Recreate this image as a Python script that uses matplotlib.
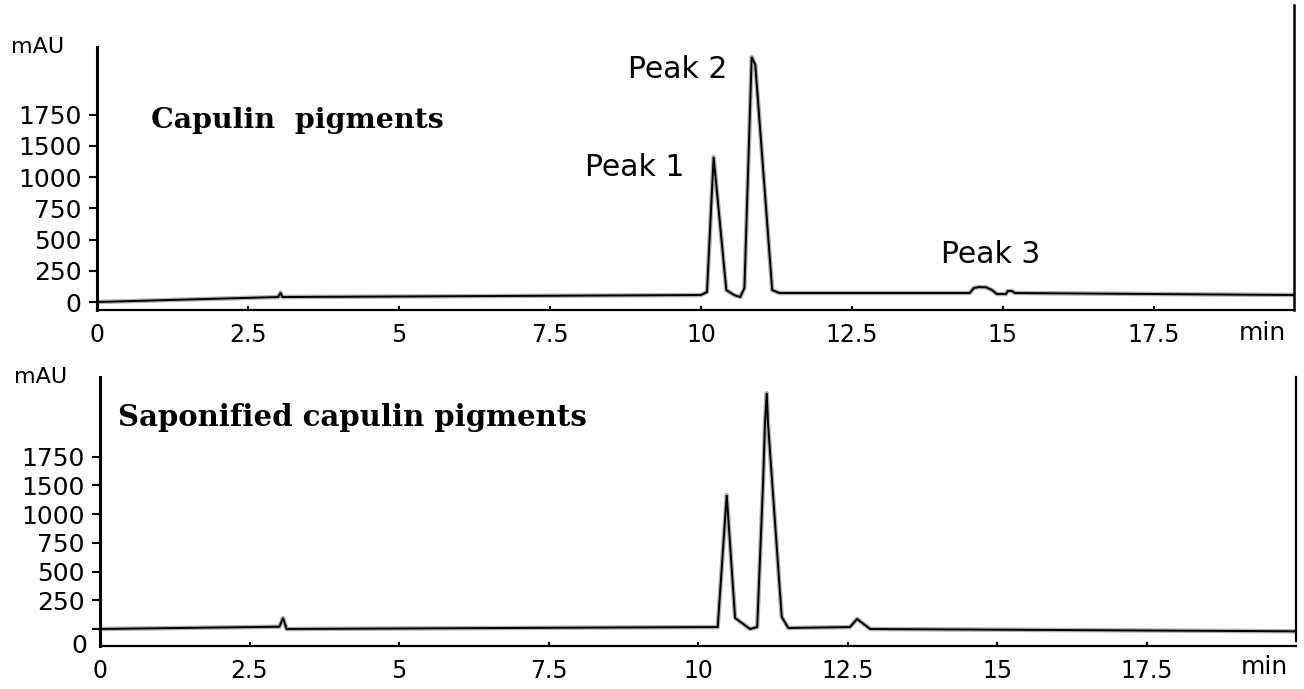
import matplotlib
matplotlib.use('Agg')
import matplotlib.pyplot as plt

# HPLC traces (time in min, signal in mAU axis units)
top_time = [0, 3.0, 3.04, 3.07, 3.12, 10.0, 10.1, 10.21, 10.42, 10.55, 10.65, 10.72, 10.84, 10.9,
            11.18, 11.3, 14.45, 14.52, 14.6, 14.72, 14.82, 14.9, 15.05, 15.08, 15.15, 15.2, 19.82]
top_signal = [0, 40, 75, 40, 40, 56, 80, 1162, 96, 56, 40, 112, 1963, 1900,
              96, 72, 72, 112, 120, 118, 96, 64, 64, 88, 88, 72, 56]

bot_time = [0, 3.0, 3.06, 3.12, 10.2, 10.33, 10.48, 10.62, 10.87, 10.99, 11.09, 11.12, 11.15, 11.17,
            11.4, 11.51, 12.54, 12.66, 12.88, 20.0]
bot_signal = [0, 20, 96, 0, 17, 17, 1167, 96, 0, 17, 1298, 1795, 2055, 1795,
              105, 9, 17, 87, 0, -20]

x_ticks = [0, 2.5, 5, 7.5, 10, 12.5, 15, 17.5]
x_labels = ['0', '2.5', '5', '7.5', '10', '12.5', '15', '17.5']
y_ticks = [0, 250, 500, 750, 1000, 1250, 1500]
y_labels = ['0', '250', '500', '750', '1000', '1500', '1750']

peak_names = ['Peak 1', 'Peak 2', 'Peak 3']
peak_pos = [(8.9, 1074), (9.62, 1860), (14.8, 377)]

plt.rcParams['font.family'] = 'DejaVu Sans'

fig = plt.figure(figsize=(13.04, 6.89), dpi=100)
W, H = 1304, 689

# axes boxes in pixels: left, right, top, bottom
ax1 = fig.add_axes([97 / W, 1 - 310 / H, (1294 - 97) / W, (310 - 47) / H])
ax2 = fig.add_axes([100 / W, 1 - 646 / H, (1296 - 100) / W, (646 - 377) / H])

panels = [(ax1, top_time, top_signal, (-64, 2043), (0, 19.82), -0.088),
          (ax2, bot_time, bot_signal, (-148, 2195), (0, 20.0), -0.078)]

for ax, t, s, ylim, xlim, min_y in panels:
    # grey halo of the scan under the black trace
    ax.plot(t, s, color='#b0b0b0', lw=3.2, solid_joinstyle='round', zorder=2)
    ax.plot(t, s, color='black', lw=1.4, solid_joinstyle='miter', zorder=3)
    ax.set_xlim(xlim)
    ax.set_ylim(ylim)
    ax.set_xticks(x_ticks)
    ax.set_xticklabels(x_labels, fontsize=17)
    ax.set_yticks(y_ticks)
    ax.set_yticklabels(y_labels, fontsize=18)
    ax.tick_params(axis='y', direction='out', length=6, width=1.5, pad=5)
    ax.tick_params(axis='x', direction='in', length=3, width=1.5, pad=9)
    ax.spines['top'].set_visible(False)
    ax.spines['left'].set_linewidth(2.2)
    ax.spines['bottom'].set_linewidth(1.6)
    ax.spines['right'].set_linewidth(1.6)
    ax.patch.set_alpha(0)
    ax.text(0.993, min_y, 'min', transform=ax.transAxes, ha='right', va='center', fontsize=18)
    ax.text(-0.05, 1.0, 'mAU', transform=ax.transAxes, ha='center', va='center', fontsize=16)

ax1.text(0.045, 0.72, 'Capulin  pigments', transform=ax1.transAxes, family='DejaVu Serif',
         fontweight='bold', fontsize=20.5, va='center', ha='left')
ax2.text(0.015, 0.85, 'Saponified capulin pigments', transform=ax2.transAxes, family='DejaVu Serif',
         fontweight='bold', fontsize=21, va='center', ha='left')

for name, (px, py) in zip(peak_names, peak_pos):
    ax1.text(px, py, name, fontsize=21.5, ha='center', va='center')

# top panel frame runs up above the axis on the right
ax1.spines['right'].set_visible(False)
ax1.plot([1, 1], [0, 1.16], transform=ax1.transAxes, color='black', lw=1.8, clip_on=False)
ax2.spines['right'].set_bounds(-108, 2195)

# the "0" of the lower panel sits below its tick in the scan
ax2.set_yticklabels([''] + y_labels[1:], fontsize=18)
ax2.annotate('0', xy=(0, 0), xycoords=('axes fraction', 'data'), xytext=(-9, -12),
             textcoords='offset points', ha='right', va='center', fontsize=18)

fig.savefig('out.png', dpi=100)
